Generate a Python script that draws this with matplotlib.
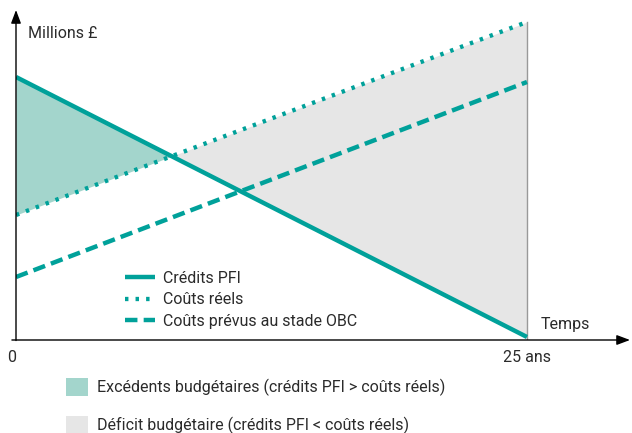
import matplotlib.pyplot as plt
import numpy as np
from matplotlib.patches import Patch

# data (years, millions)
annees = np.array([0, 25])
credits_pfi = np.array([26.3, 0.3])
couts_reels = np.array([12.5, 31.8])
couts_prevus = np.array([6.3, 25.8])

teal = '#00A19A'
vert_clair = '#A3D5CC'
gris_clair = '#E6E6E6'
texte = '#2b2b2b'

plt.rcParams['font.family'] = ['Roboto', 'DejaVu Sans']
fs = 11.5

W, H = 632, 433
fig = plt.figure(figsize=(W / 100, H / 100), dpi=100)
ax = fig.add_axes([16 / W, 93 / H, (630 - 16) / W, (340 - 10) / H])
ax.set_xlim(0, 30.04)
ax.set_ylim(0, 33)
ax.axis('off')

# zones
ax.fill_between(annees, credits_pfi, couts_reels, where=credits_pfi >= couts_reels,
                interpolate=True, color=vert_clair, lw=0)
ax.fill_between(annees, credits_pfi, couts_reels, where=credits_pfi <= couts_reels,
                interpolate=True, color=gris_clair, lw=0)
ax.plot([25, 25], [0, couts_reels[-1]], color='#999999', lw=1)

# lines
l1, = ax.plot(annees, credits_pfi, color=teal, lw=3.2, solid_capstyle='butt')
l2, = ax.plot(annees, couts_reels, color=teal, lw=3.1, linestyle=(0, (0.8, 1.65)),
              dash_capstyle='butt')
l3, = ax.plot(annees, couts_prevus, color=teal, lw=3.2, linestyle=(0, (2.8, 1.4)),
              dash_capstyle='butt')

# axes with arrows
ax.annotate('', xy=(0, 33), xytext=(0, -0.05), annotation_clip=False,
            arrowprops=dict(arrowstyle='-|>,head_length=0.8,head_width=0.3',
                            color='black', lw=1, shrinkA=0, shrinkB=0))
ax.annotate('', xy=(30.04, 0), xytext=(-0.2, 0), annotation_clip=False,
            arrowprops=dict(arrowstyle='-|>,head_length=0.8,head_width=0.3',
                            color='black', lw=1, shrinkA=0, shrinkB=0))

fig.text(28 / W, 1 - 33 / H, 'Millions £', fontsize=fs, color=texte, va='center')
fig.text(565 / W, 1 - 325 / H, 'Temps', fontsize=fs, color=texte, va='center', ha='center')
fig.text(12 / W, 1 - 358 / H, '0', fontsize=fs, color=texte, va='center', ha='center')
fig.text(527 / W, 1 - 358 / H, '25 ans', fontsize=fs, color=texte, va='center', ha='center')

leg1 = fig.legend([l1, l2, l3], ['Crédits PFI', 'Coûts réels', 'Coûts prévus au stade OBC'],
                  loc='upper left', bbox_to_anchor=(125 / W, 1 - 271 / H), frameon=False,
                  fontsize=fs, handlelength=1.9, handletextpad=0.5, labelspacing=0.4,
                  borderpad=0, borderaxespad=0, labelcolor=texte)

p1 = Patch(color=vert_clair, lw=0)
p2 = Patch(color=gris_clair, lw=0)
leg2 = fig.legend([p1, p2], ['Excédents budgétaires (crédits PFI > coûts réels)',
                             'Déficit budgétaire (crédits PFI < coûts réels)'],
                  loc='upper left', bbox_to_anchor=(66 / W, 1 - 378 / H), frameon=False,
                  fontsize=fs, handlelength=1.4, handleheight=1.4, handletextpad=0.55,
                  labelspacing=1.2, borderpad=0, borderaxespad=0, labelcolor=texte)

fig.savefig('out.png', dpi=100)
